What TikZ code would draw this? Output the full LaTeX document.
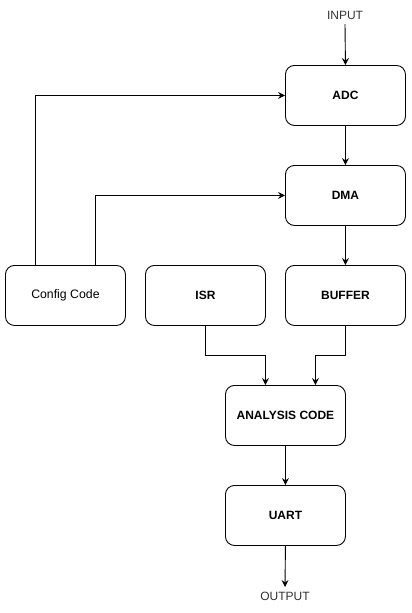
\documentclass[tikz,border=0pt]{standalone}
\usepackage{fontspec}
\setmainfont{Liberation Sans}
\usetikzlibrary{arrows.meta}
\begin{document}
\begin{tikzpicture}[x=1pt,y=-1pt,
  blk/.style={draw=black, line width=0.9pt, rounded corners=9pt, minimum width=120pt, minimum height=60pt, inner sep=0pt, anchor=north west, font=\fontsize{12}{14}\selectfont\bfseries},
  plainblk/.style={blk, font=\fontsize{12.3}{14}\selectfont},
  lbl/.style={font=\fontsize{12}{14}\selectfont, text=black!80, inner sep=0pt},
  conn/.style={draw=black, line width=0.9pt, -{Stealth[length=7pt,width=7pt,inset=2.5pt]}}
]
\useasboundingbox[fill=white] (0,0) rectangle (412,613);
\node[blk] (adc) at (285,65) {ADC};
\node[blk] (dma) at (285,165) {DMA};
\node[plainblk] (cfg) at (5,265) {Config Code};
\node[blk] (isr) at (145,265) {ISR};
\node[blk] (buf) at (285,265) {BUFFER};
\node[blk] (ana) at (225,385) {ANALYSIS CODE};
\node[blk] (uart) at (225,485) {UART};
\node[lbl] (in) at (345,15) {INPUT};
\node[lbl] (out) at (285,596) {OUTPUT};
\coordinate (inend) at (345,24);
\coordinate (outend) at (285,587);
\draw[conn] (inend) -- (adc.north);
\draw[conn] (adc.south) -- (dma.north);
\draw[conn] (dma.south) -- (buf.north);
\draw[conn] (cfg.north west) ++(30,0) |- (adc.west);
\draw[conn] (cfg.north west) ++(90,0) |- (dma.west);
\draw[conn] (isr.south) -- ++(0,30) -| ([xshift=-20pt]ana.north);
\draw[conn] (buf.south) -- ++(0,30) -| ([xshift=30pt]ana.north);
\draw[conn] (ana.south) -- (uart.north);
\draw[conn] (uart.south) -- (outend);
\end{tikzpicture}
\end{document}
